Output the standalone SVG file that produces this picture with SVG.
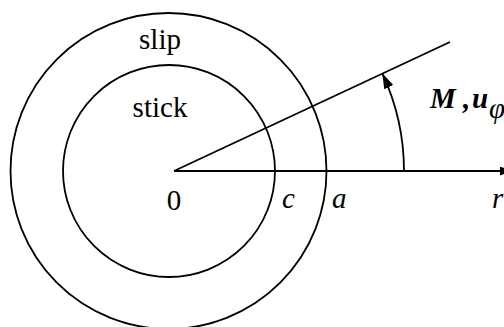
<svg xmlns="http://www.w3.org/2000/svg" width="504" height="327" viewBox="0 0 504 327">
<style>
.ln{fill:none;stroke:#000;stroke-width:1.8}
.t{font-family:"Liberation Serif","Tinos","Nimbus Roman","DejaVu Serif",serif;font-size:29px;fill:#000}
.i{font-style:italic}
.b{font-weight:bold}
</style>
<defs>
<marker id="ah" markerUnits="userSpaceOnUse" markerWidth="16" markerHeight="12" refX="15" refY="5" orient="auto">
<path d="M0,0 L15,5 L0,10 Z" fill="#000"/>
</marker>
<marker id="ah2" markerUnits="userSpaceOnUse" markerWidth="14" markerHeight="12" refX="12" refY="4.5" orient="auto">
<path d="M0,0 L12,4.5 L0,9 Z" fill="#000"/>
</marker>
</defs>
<g id="slip-zone">
<circle class="ln" cx="168.5" cy="171" r="158"/>
<text class="t" x="160" y="49" text-anchor="middle">slip</text>
</g>
<g id="stick-zone">
<circle class="ln" cx="169" cy="171" r="106"/>
<text class="t" x="160" y="117" text-anchor="middle">stick</text>
</g>
<g id="connectors">
<line class="ln" x1="174" y1="171" x2="450" y2="42"/>
<line class="ln" x1="174" y1="171" x2="512" y2="171" marker-end="url(#ah2)"/>
<path class="ln" d="M404,171 A230,230 0 0 0 382.4,73.6" marker-end="url(#ah)"/>
</g>
<g id="labels">
<text class="t" x="174" y="210" text-anchor="middle">0</text>
<text class="t i" x="282" y="208">c</text>
<text class="t i" x="332" y="208">a</text>
<text class="t i" x="492" y="208">r</text>
<text class="t i b" x="430" y="108">M</text>
<text class="t i b" x="463" y="108">,</text>
<text class="t i b" x="472" y="108">u</text>
<text class="t i" x="489" y="118" font-size="15">φ</text>
</g>
</svg>
